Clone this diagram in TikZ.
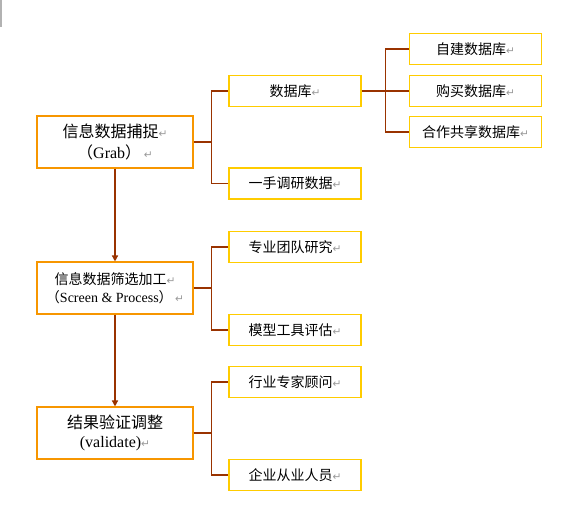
\documentclass[tikz,border=0pt]{standalone}
\usepackage{fontspec}
\setmainfont{Liberation Serif}
\newfontfamily\cjk{Noto Sans CJK SC}
\newfontfamily\markfont{DejaVu Sans}
\usetikzlibrary{arrows.meta}
\definecolor{linkbrown}{RGB}{153,51,0}
\definecolor{mainorange}{RGB}{247,150,0}
\definecolor{subyellow}{RGB}{255,204,0}
\newcommand{\pmark}{{\markfont\fontsize{8pt}{8pt}\selectfont\color{gray!80}↵}}

\begin{document}
\begin{tikzpicture}[x=0.75pt,y=-0.75pt,
    mainbox/.style={draw=mainorange, line width=0.8pt, minimum width=117pt, minimum height=39pt, inner sep=0pt, align=center},
    subbox/.style={draw=subyellow, line width=0.8pt, minimum width=99pt, minimum height=23.25pt, inner sep=0pt, font=\cjk\fontsize{10.5pt}{12pt}\selectfont},
    link/.style={draw=linkbrown, line width=0.8pt},
    flow/.style={draw=linkbrown, line width=1pt, -{Triangle[length=4.5pt,width=4.5pt]}}]
    \useasboundingbox (0,0) rectangle (565,514);
    \draw[gray!60, line width=1.5pt] (1,0) -- (1,27); % margin mark

    % Main steps
    \node[mainbox, font=\fontsize{12pt}{15.75pt}\selectfont] (grab) at (115,142)
        {{\cjk 信息数据捕捉}\pmark\\{\cjk （}Grab{\cjk ）}\,\pmark};
    \node[mainbox, font=\fontsize{10.5pt}{13.2pt}\selectfont] (screen) at (115,288)
        {{\cjk 信息数据筛选加工}\pmark\\{\cjk （}Screen \& Process{\cjk ）}\,\pmark};
    \node[mainbox, font=\fontsize{12pt}{14.25pt}\selectfont] (check) at (115,433)
        {{\cjk 结果验证调整}\\(validate)\pmark};
    \draw[flow] (grab) -- (screen);
    \draw[flow] (screen) -- (check);

    % Sources
    \node[subbox] (db) at (295,91) {数据库\pmark};
    \node[subbox] (survey) at (295,183.5) {一手调研数据\pmark};
    \node[subbox] (team) at (295,247) {专业团队研究\pmark};
    \node[subbox] (model) at (295,330) {模型工具评估\pmark};
    \node[subbox] (expert) at (295,382) {行业专家顾问\pmark};
    \node[subbox] (staff) at (295,475) {企业从业人员\pmark};

    % Databases
    \node[subbox] (own) at (475.5,49) {自建数据库\pmark};
    \node[subbox] (buy) at (475.5,91) {购买数据库\pmark};
    \node[subbox] (share) at (475.5,132) {合作共享数据库\pmark};

    % Brackets
    \draw[link] (grab.east) -- ++(18,0) coordinate (gj) |- (db.west);
    \draw[link] (gj) |- (survey.west);
    \draw[link] (screen.east) -- ++(18,0) coordinate (sj) |- (team.west);
    \draw[link] (sj) |- (model.west);
    \draw[link] (check.east) -- ++(18,0) coordinate (cj) |- (expert.west);
    \draw[link] (cj) |- (staff.west);
    \draw[link] (db.east) -- ++(24,0) coordinate (dj) |- (own.west);
    \draw[link] (dj) -- (buy.west);
    \draw[link] (dj) |- (share.west);
\end{tikzpicture}
\end{document}
